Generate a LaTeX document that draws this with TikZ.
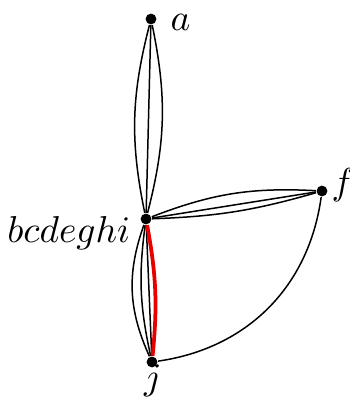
\documentclass[tikz,border=0pt]{standalone}
\usepackage{amsmath,amssymb,tikz}
\definecolor{figR}{RGB}{230,0,0}

\begin{document}
\begin{tikzpicture}[x=0.267pt,y=0.267pt,font=\fontsize{10.3}{12}\selectfont,
  vtx/.style={circle,fill=black,inner sep=0pt,minimum size=2.9pt},
  lbl/.style={inner sep=0pt}]
\useasboundingbox (0,0) rectangle (350,398);
% vertices
\node[vtx] (a) at (151,379) {};
\node[vtx] (b) at (146,179) {};
\node[vtx] (f) at (322,207) {};
\node[vtx] (j) at (152,36) {};
\node[lbl,anchor=base west] (la) at (170,367) {$a$};
\node[lbl,anchor=base east] (lb) at (131,155) {$bcdeghi$};
\node[lbl,anchor=base west] (lf) at (331,204) {$f$};
\node[lbl,anchor=base] (lj) at (153,9) {$j$};
% multi-edges
\draw (a) to[bend left=13] (b); \draw (a) -- (b); \draw (a) to[bend right=13] (b);
\draw (b) to[bend left=12] (f); \draw (b) -- (f); \draw (b) to[bend right=7] (f);
\draw (b) to[bend right=22] (j); \draw (b) to[bend right=10] (j); \draw (b) -- (j);
\draw (f) to[bend left=37] (j);
\draw[figR,line width=1pt] (b) to[bend left=8] (j);
\end{tikzpicture}
\end{document}
